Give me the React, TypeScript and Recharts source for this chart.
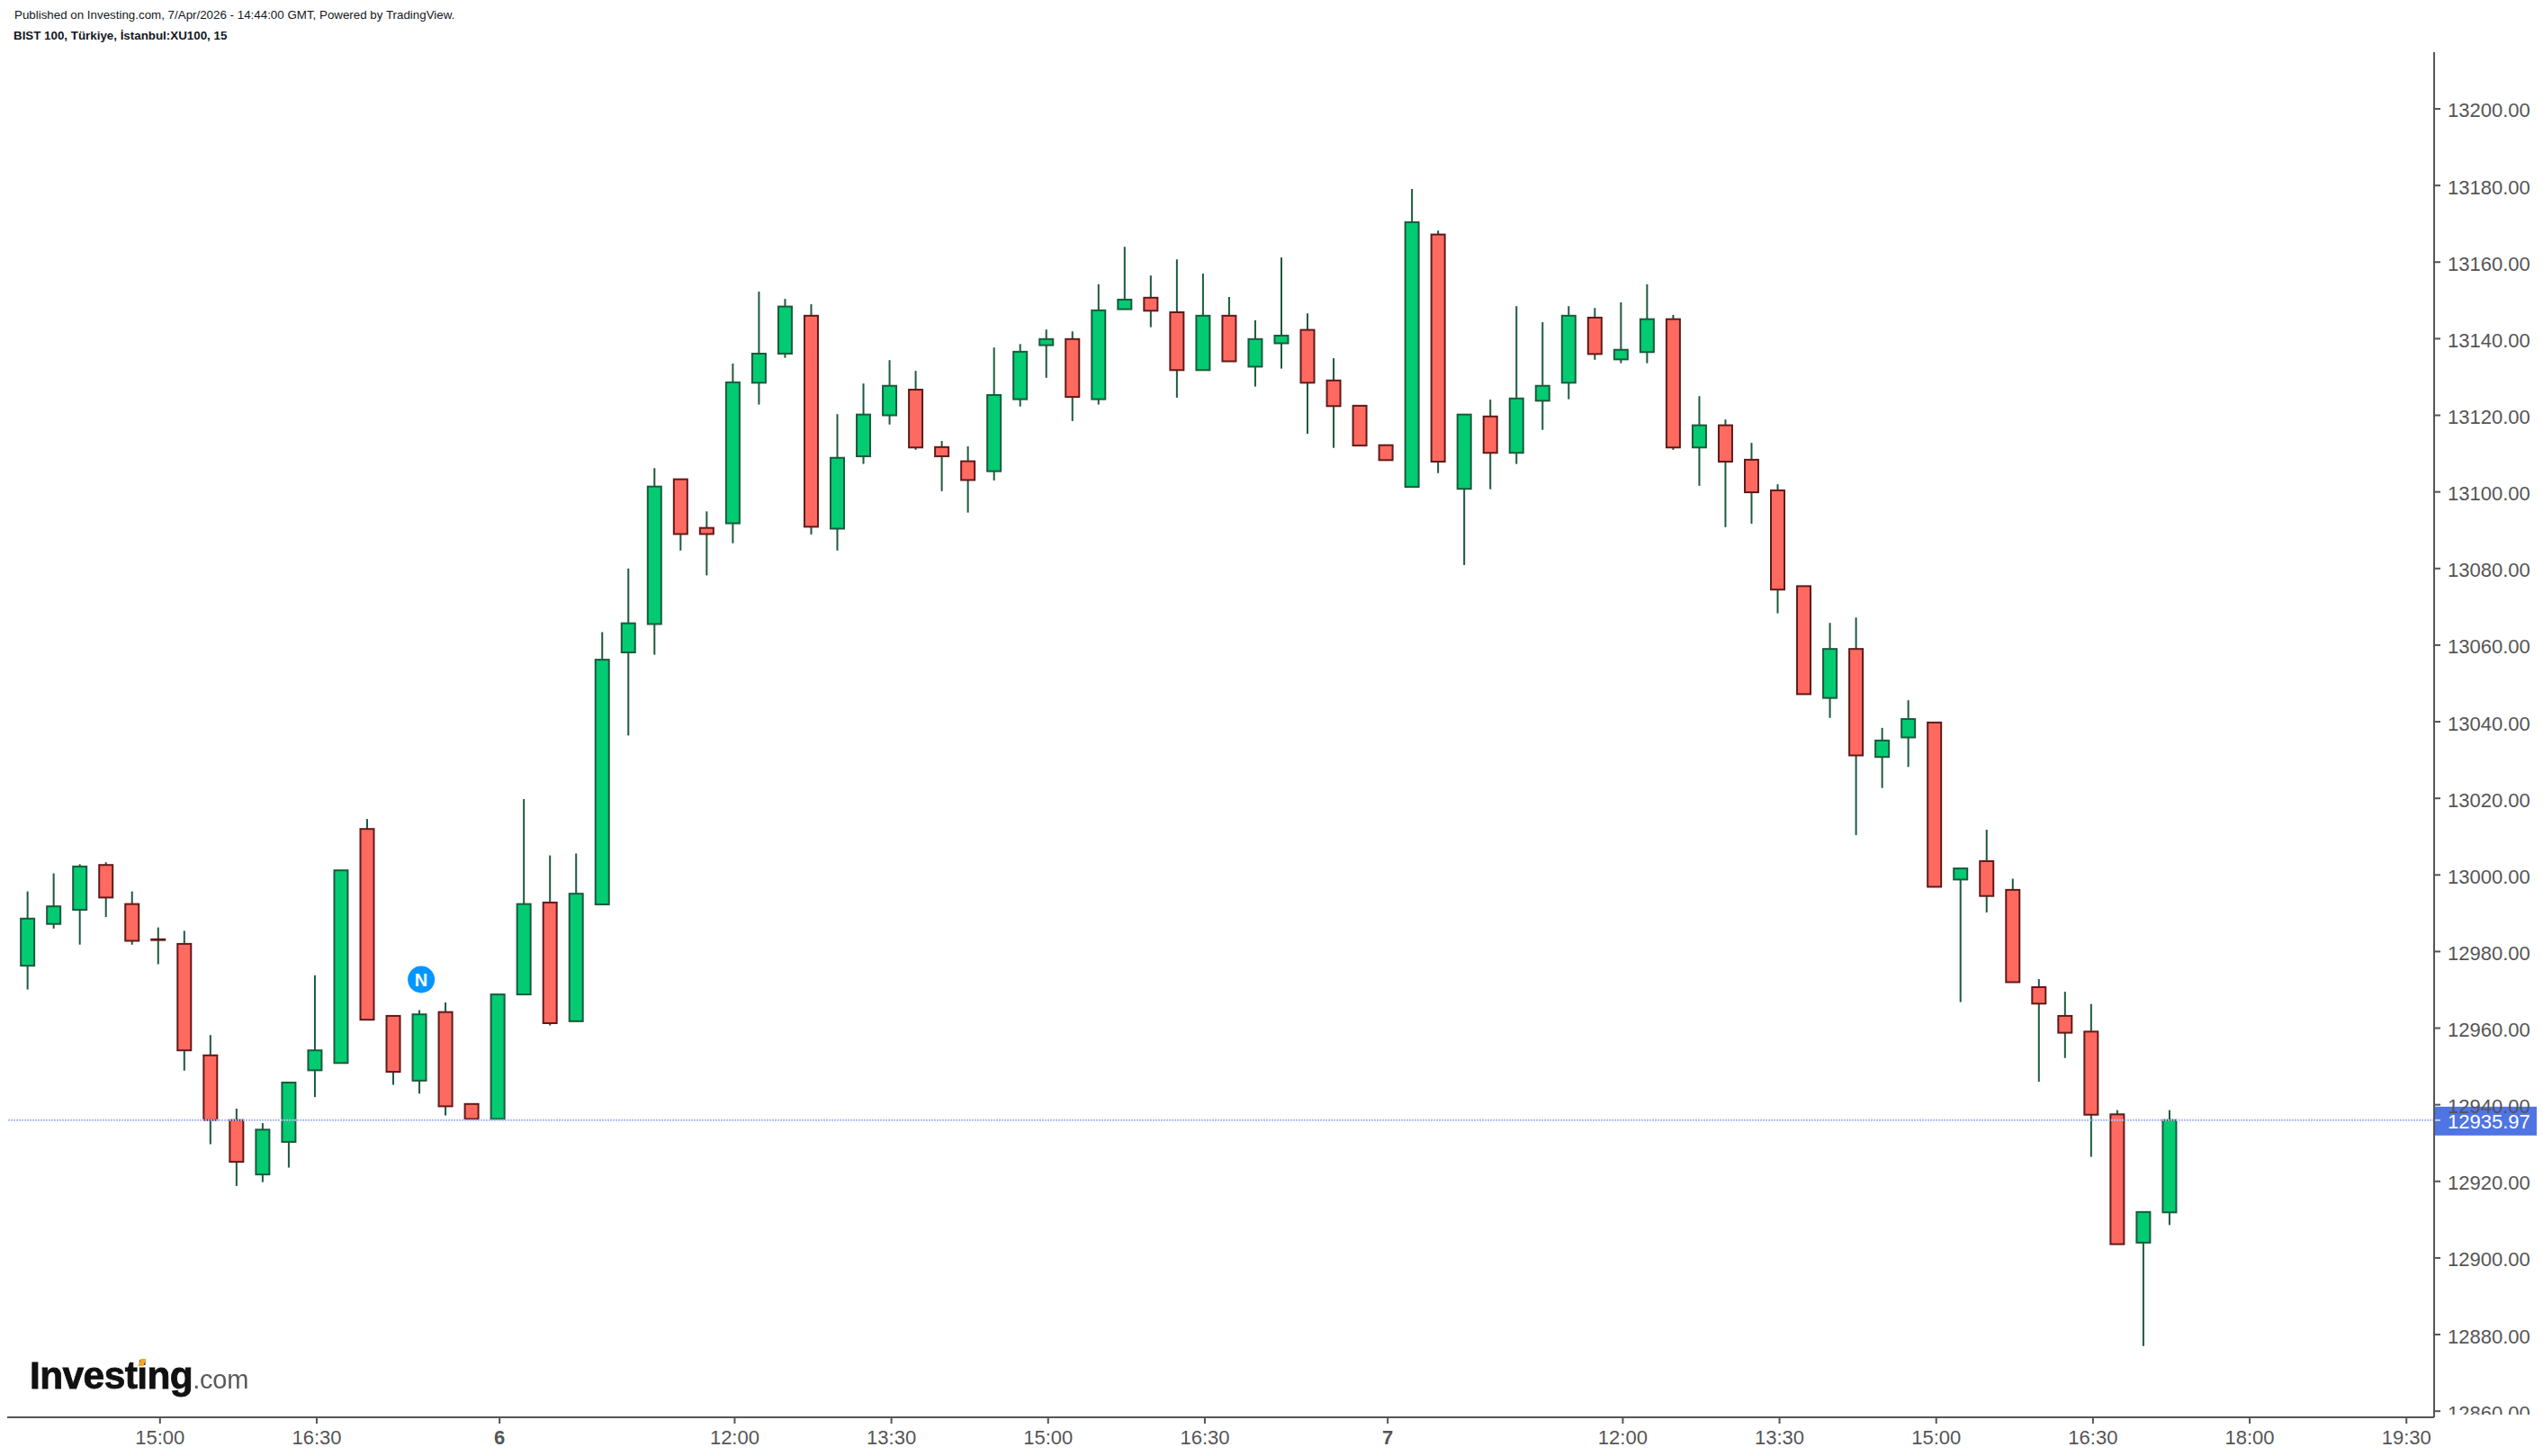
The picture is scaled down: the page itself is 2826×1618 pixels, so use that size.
import { Bar, ComposedChart, ReferenceDot, ReferenceLine, XAxis, YAxis } from 'recharts';

// 15 minute bars
const opens = [
  12976.3, 12987.2, 12990.9, 13002.6, 12992.4, 12983.2, 12982.0, 12952.9, 12936.0, 12921.8, 12930.3, 12949.0,
  12950.9, 13012.0, 12963.2, 12946.3, 12964.2, 12940.2, 12936.3, 12968.8, 12992.8, 12961.8, 12992.3, 13058.1,
  13065.5, 13103.3, 13090.6, 13091.8, 13128.5, 13136.1, 13146.0, 13090.4, 13109.3, 13120.0, 13126.7, 13111.7,
  13108.0, 13105.4, 13124.2, 13138.3, 13139.9, 13124.2, 13147.7, 13150.7, 13146.9, 13131.8, 13146.0, 13132.7,
  13138.8, 13142.3, 13129.1, 13122.5, 13112.2, 13101.3, 13167.2, 13100.8, 13119.7, 13110.2, 13123.8, 13128.5,
  13145.5, 13134.6, 13136.5, 13145.1, 13111.6, 13117.4, 13108.4, 13100.4, 13075.4, 13046.2, 13059.0, 13030.8,
  13035.9, 13039.8, 12998.8, 13003.6, 12996.1, 12970.7, 12963.2, 12959.1, 12937.5, 12904.0, 12911.9,
];
const closes = [
  12988.6, 12991.8, 13002.2, 12994.1, 12982.8, 12983.0, 12954.2, 12936.0, 12925.1, 12933.5, 12945.8, 12954.2,
  13001.2, 12962.2, 12948.6, 12963.6, 12939.6, 12936.3, 12968.8, 12992.4, 12961.3, 12995.1, 13056.2, 13065.7,
  13101.4, 13089.0, 13089.0, 13128.6, 13136.1, 13148.4, 13090.9, 13108.9, 13120.2, 13127.7, 13111.6, 13109.3,
  13103.1, 13125.3, 13136.6, 13139.9, 13124.8, 13147.4, 13150.2, 13147.3, 13131.8, 13146.0, 13134.1, 13139.9,
  13140.8, 13128.5, 13122.4, 13112.1, 13108.3, 13170.4, 13107.9, 13120.2, 13110.2, 13124.4, 13127.7, 13146.0,
  13136.0, 13137.1, 13145.1, 13111.6, 13117.4, 13107.9, 13099.9, 13074.5, 13047.2, 13059.0, 13031.2, 13035.1,
  13040.7, 12996.9, 13001.7, 12994.5, 12972.0, 12966.4, 12958.8, 12937.4, 12903.6, 12912.0, 12936.0,
];
const highs = [
  12995.7, 13000.4, 13002.8, 13003.3, 12995.7, 12986.3, 12985.4, 12958.2, 12939.0, 12935.2, 12945.8, 12973.8,
  13001.2, 13014.6, 12963.2, 12964.7, 12966.7, 12940.2, 12968.8, 13019.8, 13005.1, 13005.6, 13063.4, 13080.0,
  13106.2, 13103.3, 13094.9, 13133.5, 13152.3, 13150.4, 13149.0, 13120.3, 13128.3, 13134.4, 13131.6, 13113.3,
  13111.9, 13137.7, 13138.6, 13142.4, 13141.9, 13154.2, 13164.0, 13156.5, 13160.7, 13157.0, 13150.9, 13144.8,
  13161.2, 13146.6, 13134.9, 13122.5, 13112.2, 13179.1, 13168.2, 13120.2, 13124.1, 13148.5, 13144.3, 13148.5,
  13148.0, 13149.5, 13154.2, 13146.2, 13125.0, 13118.9, 13112.8, 13102.0, 13075.4, 13065.8, 13067.2, 13038.4,
  13045.6, 13039.8, 13001.7, 13011.8, 12999.0, 12972.8, 12969.5, 12966.3, 12938.6, 12912.0, 12938.6,
];
const lows = [
  12970.1, 12986.0, 12981.8, 12989.0, 12981.8, 12976.7, 12948.9, 12929.7, 12918.8, 12919.8, 12923.6, 12942.0,
  12950.9, 12962.2, 12945.2, 12942.9, 12937.2, 12936.3, 12936.3, 12968.8, 12960.7, 12961.8, 12992.3, 13036.4,
  13057.5, 13084.7, 13078.2, 13086.6, 13122.8, 13135.0, 13088.9, 13084.7, 13107.3, 13117.6, 13111.0, 13100.2,
  13094.6, 13103.0, 13122.3, 13129.8, 13118.5, 13122.8, 13147.7, 13143.0, 13124.6, 13131.8, 13134.1, 13127.5,
  13132.2, 13115.2, 13111.5, 13112.1, 13108.3, 13101.3, 13104.9, 13080.9, 13100.7, 13107.3, 13116.2, 13124.2,
  13134.5, 13133.6, 13133.6, 13111.0, 13101.6, 13090.8, 13091.7, 13068.3, 13047.2, 13041.0, 13010.4, 13022.7,
  13028.2, 12996.9, 12966.8, 12990.2, 12972.0, 12946.0, 12952.2, 12926.4, 12903.6, 12877.0, 12908.6,
];

const priceTicks = [
  12860, 12880, 12900, 12920, 12940, 12960, 12980, 13000, 13020, 13040, 13060, 13080, 13100, 13120, 13140, 13160,
  13180, 13200,
];
const timeTickBars = [5, 11, 18, 27, 33, 39, 45, 52, 61, 67, 73, 79, 85, 91];
const timeTickLabels = ['15:00', '16:30', '6', '12:00', '13:30', '15:00', '16:30', '7', '12:00', '13:30', '15:00', '16:30', '18:00', '19:30'];
const boldTimeLabels = ['6', '7'];

const lastPrice = 12935.97;
const newsBar = 15.07;
const newsPrice = 12972.7;

const GREEN = '#02cb72';
const GREEN_DARK = '#1c5a3c';
const RED = '#ff6a60';
const RED_DARK = '#601a1a';
const AXIS = '#555555';
const FONT = '"Liberation Sans", Arial, sans-serif';

const rows = opens.map((open, i) => ({
  bar: i,
  open,
  close: closes[i],
  range: [lows[i], highs[i]],
}));

// bar rectangle spans low..high, the body is worked out from that
function Candle(props: any) {
  const { x, y, width, height, payload } = props;
  const [low, high] = payload.range;
  const perUnit = height / (high - low);
  const up = payload.close >= payload.open;
  const bodyTop = y + (high - Math.max(payload.open, payload.close)) * perUnit;
  const bodyH = Math.abs(payload.close - payload.open) * perUnit;
  const mid = x + width / 2;
  return (
    <g>
      <line x1={mid} x2={mid} y1={y} y2={y + height} stroke={GREEN_DARK} strokeWidth={2} />
      <rect
        x={x}
        y={bodyTop}
        width={width}
        height={bodyH}
        fill={up ? GREEN : RED}
        stroke={up ? GREEN_DARK : RED_DARK}
        strokeWidth={2}
      />
    </g>
  );
}

function PriceTick({ x, y, payload }: any) {
  return (
    <text
      x={x}
      y={y + 2}
      fill={AXIS}
      fontFamily={FONT}
      fontSize={22}
      dominantBaseline="central"
      clipPath="url(#price-tick-clip)"
    >
      {payload.value.toFixed(2)}
    </text>
  );
}

function TimeTick({ x, y, payload }: any) {
  const label = timeTickLabels[timeTickBars.indexOf(Math.round(payload.value))];
  return (
    <text
      x={x}
      y={y + 15}
      fill={AXIS}
      fontFamily={FONT}
      fontSize={22}
      fontWeight={boldTimeLabels.includes(label) ? 700 : 400}
      textAnchor="middle"
      dominantBaseline="central"
    >
      {label}
    </text>
  );
}

function LastPriceTag({ viewBox }: any) {
  const left = viewBox.x + viewBox.width;
  const y = viewBox.y;
  return (
    <g>
      <rect x={left} y={y - 15} width={114} height={32} fill="#4f74e3" />
      <line x1={left} x2={left + 7} y1={y} y2={y} stroke="#c3cff5" strokeWidth={2} />
      <text x={left + 15} y={y + 2} fill="#ffffff" fontFamily={FONT} fontSize={22} dominantBaseline="central">
        {lastPrice.toFixed(2)}
      </text>
    </g>
  );
}

const pageText: any = { position: 'absolute', fontFamily: FONT, color: '#131722', whiteSpace: 'nowrap' };

export default function App() {
  return (
    <div style={{ position: 'absolute', left: 0, top: 0, width: 2826, height: 1618, background: '#fff', overflow: 'hidden' }}>
      <ComposedChart width={2826} height={1618} data={rows} margin={{ top: 58, right: 0, left: 8, bottom: 0 }}>
        <defs>
          <clipPath id="price-tick-clip">
            <rect x={2706} y={58} width={120} height={1514} />
          </clipPath>
        </defs>
        <XAxis
          dataKey="bar"
          type="number"
          domain={[-0.78, 92.13]}
          allowDataOverflow
          ticks={timeTickBars.map((b) => b + 0.07)}
          interval={0}
          height={43}
          tickSize={7}
          tickMargin={0}
          axisLine={{ stroke: AXIS, strokeWidth: 2 }}
          tickLine={{ stroke: AXIS, strokeWidth: 2 }}
          tick={<TimeTick />}
        />
        <YAxis
          orientation="right"
          type="number"
          domain={[12858.4, 13214.8]}
          allowDataOverflow
          ticks={priceTicks}
          interval={0}
          width={121}
          tickSize={7}
          tickMargin={8}
          axisLine={{ stroke: AXIS, strokeWidth: 2 }}
          tickLine={{ stroke: AXIS, strokeWidth: 2 }}
          tick={<PriceTick />}
        />
        <Bar dataKey="range" barSize={15} shape={<Candle />} isAnimationActive={false} />
        <ReferenceLine
          y={lastPrice}
          stroke="#aebcf0"
          strokeWidth={2}
          strokeDasharray="2 1"
          label={<LastPriceTag />}
        />
        <ReferenceDot
          x={newsBar}
          y={newsPrice}
          r={15}
          fill="#0496ff"
          stroke="none"
          label={{ value: 'N', position: 'center', fill: '#ffffff', fontSize: 20, fontWeight: 700, fontFamily: FONT }}
        />
      </ComposedChart>

      <div style={{ ...pageText, left: 16, top: 9, fontSize: 13.35 }}>
        Published on Investing.com, 7/Apr/2026 - 14:44:00 GMT, Powered by TradingView.
      </div>
      <div style={{ ...pageText, left: 15, top: 32, fontSize: 13.35, fontWeight: 700 }}>BIST 100, Türkiye, İstanbul:XU100, 15</div>

      <div
        style={{
          ...pageText,
          left: 33,
          top: 1503,
          fontSize: 42.5,
          fontWeight: 700,
          letterSpacing: -0.6,
          color: '#111',
          lineHeight: '52px',
          WebkitTextStroke: '0.8px #111',
          filter: 'blur(0.6px)',
        }}
      >
        Investing
        <span style={{ fontSize: 29, fontWeight: 400, letterSpacing: -0.2, color: '#5a5a5a', WebkitTextStroke: '0' }}>.com</span>
      </div>
      <div style={{ position: 'absolute', left: 155, top: 1510, width: 6, height: 8, background: '#f5a623', transform: 'skewX(-20deg)' }} />
    </div>
  );
}
